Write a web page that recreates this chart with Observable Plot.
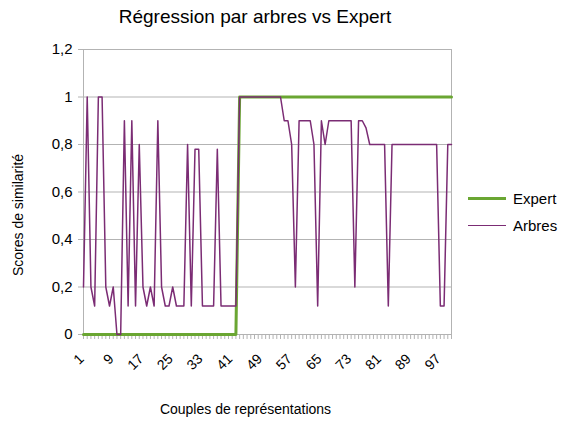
<!DOCTYPE html>
<html>
<head>
<meta charset="utf-8">
<script src="https://cdn.jsdelivr.net/npm/d3@7"></script>
<script src="https://cdn.jsdelivr.net/npm/@observablehq/plot@0.6"></script>
<style>
  html, body { margin: 0; padding: 0; background: #fff; }
  #wrap { position: relative; width: 567px; height: 421px; font-family: "Liberation Sans", Arial, sans-serif; color: #000; }
  #title { position: absolute; left: 0; width: 510px; top: 6px; text-align: center; font-size: 19px; }
  #xlabel { position: absolute; left: 83px; width: 325px; top: 401px; text-align: center; font-size: 14px; }
  #ylabel { position: absolute; left: 18px; top: 215px; font-size: 14px; transform: translate(-50%, -50%) rotate(-90deg); white-space: nowrap; }
  .leg { position: absolute; left: 468px; font-size: 15px; display: flex; align-items: center; }
  .leg span.sw { display: inline-block; width: 38px; margin-right: 7px; }
  #plot { position: absolute; left: 0; top: 0; }
</style>
</head>
<body>
<div id="wrap">
  <div id="plot"></div>
  <div id="title">Régression par arbres vs Expert</div>
  <div id="ylabel">Scores de similarité</div>
  <div id="xlabel">Couples de représentations</div>
  <div class="leg" style="top:190px"><span class="sw" style="border-top:3px solid #6aa632"></span>Expert</div>
  <div class="leg" style="top:217px"><span class="sw" style="border-top:1.5px solid #7b2c74"></span>Arbres</div>
</div>
<script>
// Categories: pair indices 1..100
const categories = d3.range(1, 101);

// Expert scores
const expert = [
  0,0,0,0,0,0,0,0,0,0,
  0,0,0,0,0,0,0,0,0,0,
  0,0,0,0,0,0,0,0,0,0,
  0,0,0,0,0,0,0,0,0,0,
  0,0,1,1,1,1,1,1,1,1,
  1,1,1,1,1,1,1,1,1,1,
  1,1,1,1,1,1,1,1,1,1,
  1,1,1,1,1,1,1,1,1,1,
  1,1,1,1,1,1,1,1,1,1,
  1,1,1,1,1,1,1,1,1,1
];

// Tree-regression scores
const arbres = [
  0.2,1,0.2,0.12,1,1,0.2,0.12,0.2,0,
  0,0.9,0.12,0.9,0.12,0.8,0.2,0.12,0.2,0.12,
  0.9,0.2,0.12,0.12,0.2,0.12,0.12,0.12,0.8,0.12,
  0.78,0.78,0.12,0.12,0.12,0.12,0.78,0.12,0.12,0.12,
  0.12,0.12,1,1,1,1,1,1,1,1,
  1,1,1,1,0.9,0.9,0.8,0.2,0.9,0.9,
  0.9,0.9,0.8,0.12,0.9,0.8,0.9,0.9,0.9,0.9,
  0.9,0.9,0.9,0.2,0.9,0.9,0.87,0.8,0.8,0.8,
  0.8,0.8,0.12,0.8,0.8,0.8,0.8,0.8,0.8,0.8,
  0.8,0.8,0.8,0.8,0.8,0.8,0.12,0.12,0.8,0.8
];

const xTickLabels = [1, 9, 17, 25, 33, 41, 49, 57, 65, 73, 81, 89, 97];
const yTicks = [0, 0.2, 0.4, 0.6, 0.8, 1, 1.2];

const expertData = categories.map((c, i) => ({x: c, y: expert[i]}));
const arbresData = categories.map((c, i) => ({x: c, y: arbres[i]}));

const fmt = d => String(+d.toFixed(1)).replace(".", ",");

const chart = Plot.plot({
  width: 567,
  height: 421,
  marginLeft: 83,
  marginRight: 116,
  marginTop: 49,
  marginBottom: 87,
  style: {fontFamily: "Liberation Sans, Arial, sans-serif", fontSize: "13px", color: "#000", background: "transparent"},
  x: {type: "linear", domain: [1, 100]},
  y: {type: "linear", domain: [0, 1.2]},
  marks: [
    Plot.gridY(yTicks, {stroke: "#b3b3b3", strokeOpacity: 1}),
    Plot.ruleX([100], {stroke: "#b3b3b3"}),
    Plot.ruleX([1], {stroke: "#b3b3b3"}),
    Plot.axisY(yTicks, {tickSize: 5, stroke: "#b3b3b3", tickPadding: 6, tickFormat: fmt, fontSize: 15, label: null}),
    Plot.axisX(categories, {tickSize: 5, stroke: "#b3b3b3", tickFormat: () => "", label: null}),
    Plot.axisX(xTickLabels, {tickSize: 0, tickPadding: 13, tickRotate: -45, fontSize: 14, dx: -2, dy: 9, label: null}),
    Plot.lineY(expertData, {x: "x", y: "y", stroke: "#6aa632", strokeWidth: 3}),
    Plot.lineY(arbresData, {x: "x", y: "y", stroke: "#7b2c74", strokeWidth: 1.5})
  ]
});
document.getElementById("plot").appendChild(chart);
</script>
</body>
</html>
